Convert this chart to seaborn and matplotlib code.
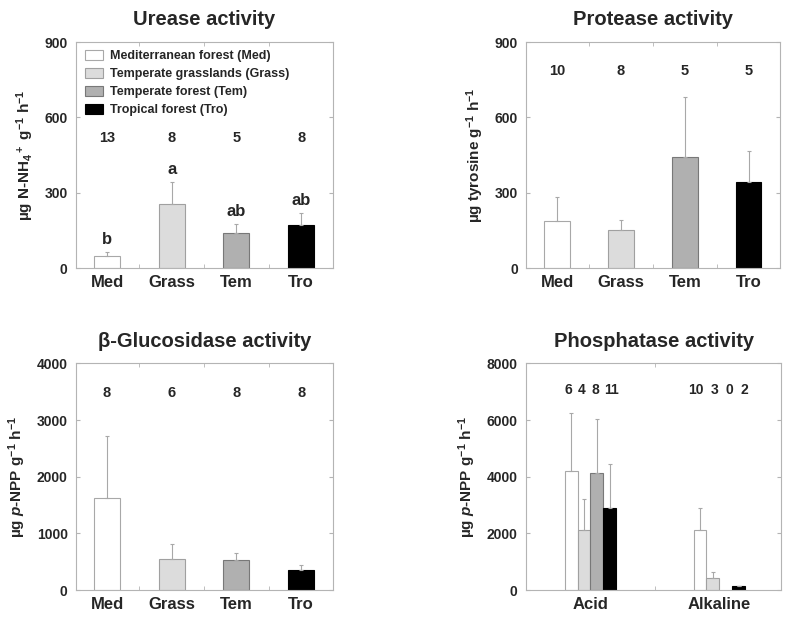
import numpy as np
import pandas as pd
import seaborn as sns
from matplotlib import pyplot as plt
from matplotlib import transforms
from matplotlib.ticker import FixedLocator


# categories / labels
biomes = ["Med", "Grass", "Tem", "Tro"]
biome_names = ["Mediterranean forest (Med)", "Temperate grasslands (Grass)",
               "Temperate forest (Tem)", "Tropical forest (Tro)"]
phos_groups = ["Acid", "Alkaline"]

# urease
urease_mean = [49, 256, 139, 172]
urease_se = [15, 87, 37, 47]
urease_n = [13, 8, 5, 8]
urease_letters = ["b", "a", "ab", "ab"]

# protease
protease_mean = [187, 152, 443, 342]
protease_se = [95, 40, 237, 124]
protease_n = [10, 8, 5, 5]

# beta-glucosidase
gluc_mean = [1629, 547, 529, 353]
gluc_se = [1088, 259, 124, 100]
gluc_n = [8, 6, 8, 8]

# phosphatase (acid / alkaline), no alkaline data for Tem
phos_acid_mean = [4188, 2106, 4117, 2905]
phos_acid_se = [2047, 1094, 1917, 1530]
phos_acid_n = [6, 4, 8, 11]
phos_alk_mean = [2106, 423, np.nan, 141]
phos_alk_se = [776, 236, np.nan, 24]
phos_alk_n = [10, 3, 0, 2]

fills = {"Med": "#ffffff", "Grass": "#dcdcdc", "Tem": "#b0b0b0", "Tro": "#000000"}
edges = {"Med": "#a8a8a8", "Grass": "#a0a0a0", "Tem": "#787878", "Tro": "#000000"}
FRAME = "#b4b4b4"
ERR = "#a8a8a8"

sns.set_style("white")
plt.rcParams["font.family"] = ["Liberation Sans", "DejaVu Sans"]
plt.rcParams["font.weight"] = "bold"
plt.rcParams["mathtext.fontset"] = "custom"
plt.rcParams["mathtext.rm"] = "Liberation Sans:bold"
plt.rcParams["mathtext.it"] = "Liberation Sans:bold:italic"
plt.rcParams["mathtext.bf"] = "Liberation Sans:bold"


def style_axes(ax, ymax, step, boundaries, title, ylabel):
    ax.set_ylim(0, ymax)
    ax.set_yticks(np.arange(0, ymax + 1, step))
    ax.tick_params(axis="y", which="major", direction="in", length=3, color=FRAME,
                   left=True, right=True, labelsize=10, pad=6)
    ax.tick_params(axis="x", which="major", length=0, labelsize=12, pad=5)
    ax.xaxis.set_minor_locator(FixedLocator(boundaries))
    ax.tick_params(axis="x", which="minor", direction="in", length=3, color=FRAME,
                   bottom=True, top=True)
    for lab in ax.get_xticklabels() + ax.get_yticklabels():
        lab.set_fontweight("bold")
    for sp in ax.spines.values():
        sp.set_visible(True)
        sp.set_color(FRAME)
        sp.set_linewidth(0.8)
    ax.set_xlabel("")
    ax.set_ylabel(ylabel, fontsize=11, fontweight="bold", labelpad=6)
    ax.set_title(title, fontsize=14.5, fontweight="bold", pad=12)


def color_edges(ax, order):
    for cont, b in zip(ax.containers, order):
        for bar in cont:
            bar.set_edgecolor(edges[b])
            bar.set_linewidth(0.8)


def simple_panel(ax, mean, se, n, n_frac, ymax, step, title, ylabel):
    df = pd.DataFrame({"biome": biomes, "mean": mean})
    sns.barplot(data=df, x="biome", y="mean", hue="biome", order=biomes,
                hue_order=biomes, palette=fills, width=0.4, errorbar=None,
                legend=False, ax=ax)
    color_edges(ax, biomes)
    x = np.arange(len(biomes))
    ax.errorbar(x, mean, yerr=[np.zeros(len(se)), se], fmt="none", ecolor=ERR,
                elinewidth=0.8, capsize=1.5, capthick=0.8, zorder=1)
    ax.set_xlim(-0.48, 3.49)
    trans = transforms.blended_transform_factory(ax.transData, ax.transAxes)
    for xi, ni in zip(x, n):
        ax.text(xi, n_frac, str(ni), transform=trans, ha="center", va="center",
                fontsize=10.5, fontweight="bold")
    style_axes(ax, ymax, step, [0.5, 1.5, 2.5], title, ylabel)


fig = plt.figure(figsize=(8, 6.18), dpi=100)
ax1 = fig.add_axes([0.095, 0.566, 0.321, 0.366])
ax2 = fig.add_axes([0.658, 0.566, 0.317, 0.366])
ax3 = fig.add_axes([0.095, 0.045, 0.321, 0.367])
ax4 = fig.add_axes([0.6575, 0.045, 0.319, 0.367])

simple_panel(ax1, urease_mean, urease_se, urease_n, 0.576, 900, 300,
             "Urease activity", "µg N-NH$_4$$^+$ g$^{-1}$ h$^{-1}$")
for xi, m, s, let in zip(range(4), urease_mean, urease_se, urease_letters):
    ax1.annotate(let, (xi, m + s), xytext=(0, 9), textcoords="offset points",
                 ha="center", va="center", fontsize=12, fontweight="bold")
handles = [c[0] for c in ax1.containers]
ax1.legend(handles, biome_names, loc="upper left", bbox_to_anchor=(-0.012, 1.02),
           frameon=False, prop={"size": 9, "weight": "bold"}, handlelength=1.4,
           handleheight=0.85, labelspacing=0.45, handletextpad=0.6, borderpad=0.5)

simple_panel(ax2, protease_mean, protease_se, protease_n, 0.872, 900, 300,
             "Protease activity", "µg tyrosine g$^{-1}$ h$^{-1}$")

simple_panel(ax3, gluc_mean, gluc_se, gluc_n, 0.868, 4000, 1000,
             "β-Glucosidase activity", "µg $p$-NPP g$^{-1}$ h$^{-1}$")

# phosphatase: grouped bars
rows = []
for b, m in zip(biomes, phos_acid_mean):
    rows.append({"group": "Acid", "biome": b, "mean": m})
for b, m in zip(biomes, phos_alk_mean):
    rows.append({"group": "Alkaline", "biome": b, "mean": m})
phos = pd.DataFrame(rows)
sns.barplot(data=phos, x="group", y="mean", hue="biome", order=phos_groups,
            hue_order=biomes, palette=fills, width=0.4, errorbar=None,
            legend=False, ax=ax4)
color_edges(ax4, biomes)
offsets = (np.arange(len(biomes)) - 1.5) * 0.1
label_offsets = [[-0.17, -0.065, 0.035, 0.16], [-0.18, -0.035, 0.08, 0.195]]
trans4 = transforms.blended_transform_factory(ax4.transData, ax4.transAxes)
for gi, (means, ses, ns) in enumerate([(phos_acid_mean, phos_acid_se, phos_acid_n),
                                       (phos_alk_mean, phos_alk_se, phos_alk_n)]):
    xs = gi + offsets
    ax4.errorbar(xs, means, yerr=[np.zeros(4), ses], fmt="none", ecolor=ERR,
                 elinewidth=0.8, capsize=1.5, capthick=0.8, zorder=1)
    for lo, ni in zip(label_offsets[gi], ns):
        ax4.text(gi + lo, 0.882, str(ni), transform=trans4, ha="center",
                 va="center", fontsize=10, fontweight="bold")
ax4.set_xlim(-0.5, 1.48)
style_axes(ax4, 8000, 2000, [0.5], "Phosphatase activity",
           "µg $p$-NPP g$^{-1}$ h$^{-1}$")

plt.savefig("out.png", dpi=100)
